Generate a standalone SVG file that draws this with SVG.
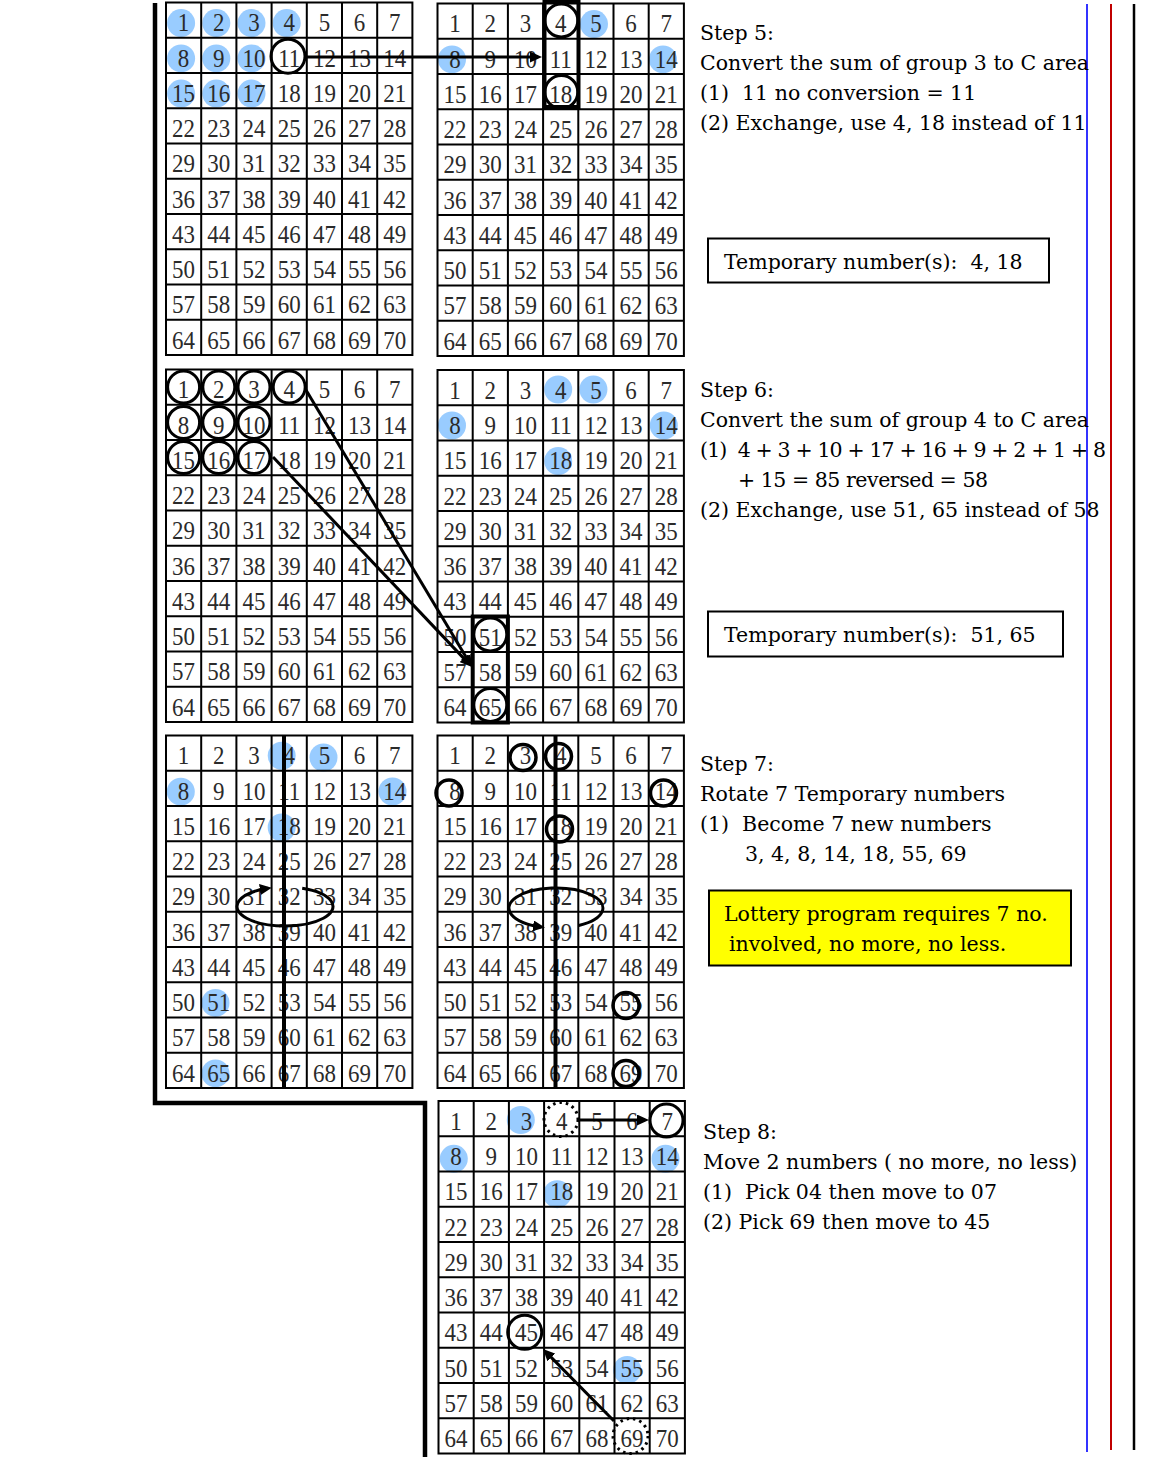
<svg xmlns="http://www.w3.org/2000/svg" width="1156" height="1460" viewBox="0 0 1156 1460">
<style>
.gl{fill:none;stroke:#000;stroke-width:2}
.n{font-family:"Liberation Serif","Times New Roman",serif;font-size:25.5px;fill:#2a2a2a;text-anchor:middle}
.b{fill:#99CCFF}
.c{fill:none;stroke:#000;stroke-width:3}
.c2{fill:none;stroke:#000;stroke-width:3.5}
.d{fill:none;stroke:#000;stroke-width:3;stroke-dasharray:2.5 4}
.rk{fill:none;stroke:#000;stroke-width:4}
.vl{stroke:#000;stroke-width:4}
.ln{fill:none;stroke:#000;stroke-width:3}
.t{font-family:"DejaVu Serif",serif;font-size:20.5px;fill:#000;white-space:pre}
.box{fill:#fff;stroke:#000;stroke-width:2}
</style>
<defs>
<path id="gl" class="gl" d="M0,0H246.4V352.5H0Z M35.2,0V352.5 M70.4,0V352.5 M105.6,0V352.5 M140.8,0V352.5 M176,0V352.5 M211.2,0V352.5 M0,35.25H246.4 M0,70.5H246.4 M0,105.75H246.4 M0,141H246.4 M0,176.25H246.4 M0,211.5H246.4 M0,246.75H246.4 M0,282H246.4 M0,317.25H246.4"/>
<marker id="ah" viewBox="0 0 12 11" markerWidth="12" markerHeight="11" refX="8" refY="5.5" markerUnits="userSpaceOnUse" orient="auto"><path d="M0,0L12,5.5L0,11Z" fill="#000"/></marker>
</defs>
<rect width="1156" height="1460" fill="#fff"/>

<g id="frame">
<path d="M155,3V1103H425V1457" fill="none" stroke="#000" stroke-width="4.5"/>
<line x1="1087" y1="4" x2="1087" y2="1452" stroke="#3333FF" stroke-width="2"/>
<line x1="1111" y1="4" x2="1111" y2="1450" stroke="#C00000" stroke-width="2"/>
<line x1="1134" y1="4" x2="1134" y2="1450" stroke="#000" stroke-width="2.5"/>
</g>

<g id="step5-grid-left" transform="translate(166,2.5)">
<circle class="b" cx="15.1" cy="20.6" r="14"/><circle class="b" cx="50.3" cy="20.6" r="14"/><circle class="b" cx="85.5" cy="20.6" r="14"/><circle class="b" cx="120.7" cy="20.6" r="14"/>
<circle class="b" cx="15.1" cy="55.9" r="14"/><circle class="b" cx="50.3" cy="55.9" r="14"/><circle class="b" cx="85.5" cy="55.9" r="14"/>
<circle class="b" cx="15.1" cy="91.1" r="14"/><circle class="b" cx="50.3" cy="91.1" r="14"/><circle class="b" cx="85.5" cy="91.1" r="14"/>
<use href="#gl"/>
<g class="n" transform="scale(0.9 1)">
<text y="29"><tspan x="19.56">1</tspan><tspan x="58.67">2</tspan><tspan x="97.78">3</tspan><tspan x="136.89">4</tspan><tspan x="176">5</tspan><tspan x="215.11">6</tspan><tspan x="254.22">7</tspan></text>
<text y="64.25"><tspan x="19.56">8</tspan><tspan x="58.67">9</tspan><tspan x="97.78">10</tspan><tspan x="136.89">11</tspan><tspan x="176">12</tspan><tspan x="215.11">13</tspan><tspan x="254.22">14</tspan></text>
<text y="99.5"><tspan x="19.56">15</tspan><tspan x="58.67">16</tspan><tspan x="97.78">17</tspan><tspan x="136.89">18</tspan><tspan x="176">19</tspan><tspan x="215.11">20</tspan><tspan x="254.22">21</tspan></text>
<text y="134.75"><tspan x="19.56">22</tspan><tspan x="58.67">23</tspan><tspan x="97.78">24</tspan><tspan x="136.89">25</tspan><tspan x="176">26</tspan><tspan x="215.11">27</tspan><tspan x="254.22">28</tspan></text>
<text y="170"><tspan x="19.56">29</tspan><tspan x="58.67">30</tspan><tspan x="97.78">31</tspan><tspan x="136.89">32</tspan><tspan x="176">33</tspan><tspan x="215.11">34</tspan><tspan x="254.22">35</tspan></text>
<text y="205.25"><tspan x="19.56">36</tspan><tspan x="58.67">37</tspan><tspan x="97.78">38</tspan><tspan x="136.89">39</tspan><tspan x="176">40</tspan><tspan x="215.11">41</tspan><tspan x="254.22">42</tspan></text>
<text y="240.5"><tspan x="19.56">43</tspan><tspan x="58.67">44</tspan><tspan x="97.78">45</tspan><tspan x="136.89">46</tspan><tspan x="176">47</tspan><tspan x="215.11">48</tspan><tspan x="254.22">49</tspan></text>
<text y="275.75"><tspan x="19.56">50</tspan><tspan x="58.67">51</tspan><tspan x="97.78">52</tspan><tspan x="136.89">53</tspan><tspan x="176">54</tspan><tspan x="215.11">55</tspan><tspan x="254.22">56</tspan></text>
<text y="311"><tspan x="19.56">57</tspan><tspan x="58.67">58</tspan><tspan x="97.78">59</tspan><tspan x="136.89">60</tspan><tspan x="176">61</tspan><tspan x="215.11">62</tspan><tspan x="254.22">63</tspan></text>
<text y="346.25"><tspan x="19.56">64</tspan><tspan x="58.67">65</tspan><tspan x="97.78">66</tspan><tspan x="136.89">67</tspan><tspan x="176">68</tspan><tspan x="215.11">69</tspan><tspan x="254.22">70</tspan></text>
</g>
<circle class="c" cx="122" cy="53.7" r="17"/>
</g>

<g id="step5-grid-right" transform="translate(437.5,3.5)">
<circle class="b" cx="156.5" cy="20.6" r="14"/><circle class="b" cx="14.5" cy="55.9" r="14"/><circle class="b" cx="225.5" cy="55.9" r="14"/>
<use href="#gl"/>
<g class="n" transform="scale(0.9 1)">
<text y="29"><tspan x="19.56">1</tspan><tspan x="58.67">2</tspan><tspan x="97.78">3</tspan><tspan x="136.89">4</tspan><tspan x="176">5</tspan><tspan x="215.11">6</tspan><tspan x="254.22">7</tspan></text>
<text y="64.25"><tspan x="19.56">8</tspan><tspan x="58.67">9</tspan><tspan x="97.78">10</tspan><tspan x="136.89">11</tspan><tspan x="176">12</tspan><tspan x="215.11">13</tspan><tspan x="254.22">14</tspan></text>
<text y="99.5"><tspan x="19.56">15</tspan><tspan x="58.67">16</tspan><tspan x="97.78">17</tspan><tspan x="136.89">18</tspan><tspan x="176">19</tspan><tspan x="215.11">20</tspan><tspan x="254.22">21</tspan></text>
<text y="134.75"><tspan x="19.56">22</tspan><tspan x="58.67">23</tspan><tspan x="97.78">24</tspan><tspan x="136.89">25</tspan><tspan x="176">26</tspan><tspan x="215.11">27</tspan><tspan x="254.22">28</tspan></text>
<text y="170"><tspan x="19.56">29</tspan><tspan x="58.67">30</tspan><tspan x="97.78">31</tspan><tspan x="136.89">32</tspan><tspan x="176">33</tspan><tspan x="215.11">34</tspan><tspan x="254.22">35</tspan></text>
<text y="205.25"><tspan x="19.56">36</tspan><tspan x="58.67">37</tspan><tspan x="97.78">38</tspan><tspan x="136.89">39</tspan><tspan x="176">40</tspan><tspan x="215.11">41</tspan><tspan x="254.22">42</tspan></text>
<text y="240.5"><tspan x="19.56">43</tspan><tspan x="58.67">44</tspan><tspan x="97.78">45</tspan><tspan x="136.89">46</tspan><tspan x="176">47</tspan><tspan x="215.11">48</tspan><tspan x="254.22">49</tspan></text>
<text y="275.75"><tspan x="19.56">50</tspan><tspan x="58.67">51</tspan><tspan x="97.78">52</tspan><tspan x="136.89">53</tspan><tspan x="176">54</tspan><tspan x="215.11">55</tspan><tspan x="254.22">56</tspan></text>
<text y="311"><tspan x="19.56">57</tspan><tspan x="58.67">58</tspan><tspan x="97.78">59</tspan><tspan x="136.89">60</tspan><tspan x="176">61</tspan><tspan x="215.11">62</tspan><tspan x="254.22">63</tspan></text>
<text y="346.25"><tspan x="19.56">64</tspan><tspan x="58.67">65</tspan><tspan x="97.78">66</tspan><tspan x="136.89">67</tspan><tspan x="176">68</tspan><tspan x="215.11">69</tspan><tspan x="254.22">70</tspan></text>
</g>
<rect class="rk" x="107" y="-1.5" width="34" height="105"/>
<circle class="c" cx="123.8" cy="17" r="16.5"/><circle class="c" cx="123.8" cy="88.5" r="16.5"/>
</g>

<g id="step6-grid-left" transform="translate(166,369.5)">
<use href="#gl"/>
<g class="n" transform="scale(0.9 1)">
<text y="29"><tspan x="19.56">1</tspan><tspan x="58.67">2</tspan><tspan x="97.78">3</tspan><tspan x="136.89">4</tspan><tspan x="176">5</tspan><tspan x="215.11">6</tspan><tspan x="254.22">7</tspan></text>
<text y="64.25"><tspan x="19.56">8</tspan><tspan x="58.67">9</tspan><tspan x="97.78">10</tspan><tspan x="136.89">11</tspan><tspan x="176">12</tspan><tspan x="215.11">13</tspan><tspan x="254.22">14</tspan></text>
<text y="99.5"><tspan x="19.56">15</tspan><tspan x="58.67">16</tspan><tspan x="97.78">17</tspan><tspan x="136.89">18</tspan><tspan x="176">19</tspan><tspan x="215.11">20</tspan><tspan x="254.22">21</tspan></text>
<text y="134.75"><tspan x="19.56">22</tspan><tspan x="58.67">23</tspan><tspan x="97.78">24</tspan><tspan x="136.89">25</tspan><tspan x="176">26</tspan><tspan x="215.11">27</tspan><tspan x="254.22">28</tspan></text>
<text y="170"><tspan x="19.56">29</tspan><tspan x="58.67">30</tspan><tspan x="97.78">31</tspan><tspan x="136.89">32</tspan><tspan x="176">33</tspan><tspan x="215.11">34</tspan><tspan x="254.22">35</tspan></text>
<text y="205.25"><tspan x="19.56">36</tspan><tspan x="58.67">37</tspan><tspan x="97.78">38</tspan><tspan x="136.89">39</tspan><tspan x="176">40</tspan><tspan x="215.11">41</tspan><tspan x="254.22">42</tspan></text>
<text y="240.5"><tspan x="19.56">43</tspan><tspan x="58.67">44</tspan><tspan x="97.78">45</tspan><tspan x="136.89">46</tspan><tspan x="176">47</tspan><tspan x="215.11">48</tspan><tspan x="254.22">49</tspan></text>
<text y="275.75"><tspan x="19.56">50</tspan><tspan x="58.67">51</tspan><tspan x="97.78">52</tspan><tspan x="136.89">53</tspan><tspan x="176">54</tspan><tspan x="215.11">55</tspan><tspan x="254.22">56</tspan></text>
<text y="311"><tspan x="19.56">57</tspan><tspan x="58.67">58</tspan><tspan x="97.78">59</tspan><tspan x="136.89">60</tspan><tspan x="176">61</tspan><tspan x="215.11">62</tspan><tspan x="254.22">63</tspan></text>
<text y="346.25"><tspan x="19.56">64</tspan><tspan x="58.67">65</tspan><tspan x="97.78">66</tspan><tspan x="136.89">67</tspan><tspan x="176">68</tspan><tspan x="215.11">69</tspan><tspan x="254.22">70</tspan></text>
</g>
<circle class="c" cx="17.6" cy="17.6" r="16"/><circle class="c" cx="52.8" cy="17.6" r="16"/><circle class="c" cx="88" cy="17.6" r="16"/><circle class="c" cx="123.2" cy="17.6" r="16"/>
<circle class="c" cx="17.6" cy="52.9" r="16"/><circle class="c" cx="52.8" cy="52.9" r="16"/><circle class="c" cx="88" cy="52.9" r="16"/>
<circle class="c" cx="17.6" cy="88.1" r="16"/><circle class="c" cx="52.8" cy="88.1" r="16"/><circle class="c" cx="88" cy="88.1" r="16"/>
</g>

<g id="step6-grid-right" transform="translate(437.5,370)">
<circle class="b" cx="120.7" cy="19.5" r="14"/><circle class="b" cx="155.9" cy="19.5" r="14"/><circle class="b" cx="14.5" cy="55.5" r="14"/><circle class="b" cx="226.3" cy="55.5" r="14"/><circle class="b" cx="120.7" cy="91.1" r="14"/>
<use href="#gl"/>
<g class="n" transform="scale(0.9 1)">
<text y="29"><tspan x="19.56">1</tspan><tspan x="58.67">2</tspan><tspan x="97.78">3</tspan><tspan x="136.89">4</tspan><tspan x="176">5</tspan><tspan x="215.11">6</tspan><tspan x="254.22">7</tspan></text>
<text y="64.25"><tspan x="19.56">8</tspan><tspan x="58.67">9</tspan><tspan x="97.78">10</tspan><tspan x="136.89">11</tspan><tspan x="176">12</tspan><tspan x="215.11">13</tspan><tspan x="254.22">14</tspan></text>
<text y="99.5"><tspan x="19.56">15</tspan><tspan x="58.67">16</tspan><tspan x="97.78">17</tspan><tspan x="136.89">18</tspan><tspan x="176">19</tspan><tspan x="215.11">20</tspan><tspan x="254.22">21</tspan></text>
<text y="134.75"><tspan x="19.56">22</tspan><tspan x="58.67">23</tspan><tspan x="97.78">24</tspan><tspan x="136.89">25</tspan><tspan x="176">26</tspan><tspan x="215.11">27</tspan><tspan x="254.22">28</tspan></text>
<text y="170"><tspan x="19.56">29</tspan><tspan x="58.67">30</tspan><tspan x="97.78">31</tspan><tspan x="136.89">32</tspan><tspan x="176">33</tspan><tspan x="215.11">34</tspan><tspan x="254.22">35</tspan></text>
<text y="205.25"><tspan x="19.56">36</tspan><tspan x="58.67">37</tspan><tspan x="97.78">38</tspan><tspan x="136.89">39</tspan><tspan x="176">40</tspan><tspan x="215.11">41</tspan><tspan x="254.22">42</tspan></text>
<text y="240.5"><tspan x="19.56">43</tspan><tspan x="58.67">44</tspan><tspan x="97.78">45</tspan><tspan x="136.89">46</tspan><tspan x="176">47</tspan><tspan x="215.11">48</tspan><tspan x="254.22">49</tspan></text>
<text y="275.75"><tspan x="19.56">50</tspan><tspan x="58.67">51</tspan><tspan x="97.78">52</tspan><tspan x="136.89">53</tspan><tspan x="176">54</tspan><tspan x="215.11">55</tspan><tspan x="254.22">56</tspan></text>
<text y="311"><tspan x="19.56">57</tspan><tspan x="58.67">58</tspan><tspan x="97.78">59</tspan><tspan x="136.89">60</tspan><tspan x="176">61</tspan><tspan x="215.11">62</tspan><tspan x="254.22">63</tspan></text>
<text y="346.25"><tspan x="19.56">64</tspan><tspan x="58.67">65</tspan><tspan x="97.78">66</tspan><tspan x="136.89">67</tspan><tspan x="176">68</tspan><tspan x="215.11">69</tspan><tspan x="254.22">70</tspan></text>
</g>
<rect class="rk" x="35.2" y="246.5" width="35.2" height="106"/>
<circle class="c" cx="52.8" cy="264.4" r="16.5"/><circle class="c" cx="52.8" cy="334.9" r="16.5"/>
</g>

<g id="step7-grid-left" transform="translate(166,735.5)">
<circle class="b" cx="115.7" cy="20.3" r="14"/><circle class="b" cx="157.5" cy="22" r="14"/><circle class="b" cx="14.8" cy="56.2" r="14"/><circle class="b" cx="226.5" cy="56" r="14"/><circle class="b" cx="115.7" cy="92" r="14"/><circle class="b" cx="49.5" cy="267.4" r="14"/><circle class="b" cx="49.5" cy="337.9" r="14"/>
<use href="#gl"/>
<g class="n" transform="scale(0.9 1)">
<text y="29"><tspan x="19.56">1</tspan><tspan x="58.67">2</tspan><tspan x="97.78">3</tspan><tspan x="136.89">4</tspan><tspan x="176">5</tspan><tspan x="215.11">6</tspan><tspan x="254.22">7</tspan></text>
<text y="64.25"><tspan x="19.56">8</tspan><tspan x="58.67">9</tspan><tspan x="97.78">10</tspan><tspan x="136.89">11</tspan><tspan x="176">12</tspan><tspan x="215.11">13</tspan><tspan x="254.22">14</tspan></text>
<text y="99.5"><tspan x="19.56">15</tspan><tspan x="58.67">16</tspan><tspan x="97.78">17</tspan><tspan x="136.89">18</tspan><tspan x="176">19</tspan><tspan x="215.11">20</tspan><tspan x="254.22">21</tspan></text>
<text y="134.75"><tspan x="19.56">22</tspan><tspan x="58.67">23</tspan><tspan x="97.78">24</tspan><tspan x="136.89">25</tspan><tspan x="176">26</tspan><tspan x="215.11">27</tspan><tspan x="254.22">28</tspan></text>
<text y="170"><tspan x="19.56">29</tspan><tspan x="58.67">30</tspan><tspan x="97.78">31</tspan><tspan x="136.89">32</tspan><tspan x="176">33</tspan><tspan x="215.11">34</tspan><tspan x="254.22">35</tspan></text>
<text y="205.25"><tspan x="19.56">36</tspan><tspan x="58.67">37</tspan><tspan x="97.78">38</tspan><tspan x="136.89">39</tspan><tspan x="176">40</tspan><tspan x="215.11">41</tspan><tspan x="254.22">42</tspan></text>
<text y="240.5"><tspan x="19.56">43</tspan><tspan x="58.67">44</tspan><tspan x="97.78">45</tspan><tspan x="136.89">46</tspan><tspan x="176">47</tspan><tspan x="215.11">48</tspan><tspan x="254.22">49</tspan></text>
<text y="275.75"><tspan x="19.56">50</tspan><tspan x="58.67">51</tspan><tspan x="97.78">52</tspan><tspan x="136.89">53</tspan><tspan x="176">54</tspan><tspan x="215.11">55</tspan><tspan x="254.22">56</tspan></text>
<text y="311"><tspan x="19.56">57</tspan><tspan x="58.67">58</tspan><tspan x="97.78">59</tspan><tspan x="136.89">60</tspan><tspan x="176">61</tspan><tspan x="215.11">62</tspan><tspan x="254.22">63</tspan></text>
<text y="346.25"><tspan x="19.56">64</tspan><tspan x="58.67">65</tspan><tspan x="97.78">66</tspan><tspan x="136.89">67</tspan><tspan x="176">68</tspan><tspan x="215.11">69</tspan><tspan x="254.22">70</tspan></text>
</g>
<line class="vl" x1="118" y1="0" x2="118" y2="353"/>
</g>

<g id="step7-grid-right" transform="translate(437.5,735.5)">
<use href="#gl"/>
<g class="n" transform="scale(0.9 1)">
<text y="29"><tspan x="19.56">1</tspan><tspan x="58.67">2</tspan><tspan x="97.78">3</tspan><tspan x="136.89">4</tspan><tspan x="176">5</tspan><tspan x="215.11">6</tspan><tspan x="254.22">7</tspan></text>
<text y="64.25"><tspan x="19.56">8</tspan><tspan x="58.67">9</tspan><tspan x="97.78">10</tspan><tspan x="136.89">11</tspan><tspan x="176">12</tspan><tspan x="215.11">13</tspan><tspan x="254.22">14</tspan></text>
<text y="99.5"><tspan x="19.56">15</tspan><tspan x="58.67">16</tspan><tspan x="97.78">17</tspan><tspan x="136.89">18</tspan><tspan x="176">19</tspan><tspan x="215.11">20</tspan><tspan x="254.22">21</tspan></text>
<text y="134.75"><tspan x="19.56">22</tspan><tspan x="58.67">23</tspan><tspan x="97.78">24</tspan><tspan x="136.89">25</tspan><tspan x="176">26</tspan><tspan x="215.11">27</tspan><tspan x="254.22">28</tspan></text>
<text y="170"><tspan x="19.56">29</tspan><tspan x="58.67">30</tspan><tspan x="97.78">31</tspan><tspan x="136.89">32</tspan><tspan x="176">33</tspan><tspan x="215.11">34</tspan><tspan x="254.22">35</tspan></text>
<text y="205.25"><tspan x="19.56">36</tspan><tspan x="58.67">37</tspan><tspan x="97.78">38</tspan><tspan x="136.89">39</tspan><tspan x="176">40</tspan><tspan x="215.11">41</tspan><tspan x="254.22">42</tspan></text>
<text y="240.5"><tspan x="19.56">43</tspan><tspan x="58.67">44</tspan><tspan x="97.78">45</tspan><tspan x="136.89">46</tspan><tspan x="176">47</tspan><tspan x="215.11">48</tspan><tspan x="254.22">49</tspan></text>
<text y="275.75"><tspan x="19.56">50</tspan><tspan x="58.67">51</tspan><tspan x="97.78">52</tspan><tspan x="136.89">53</tspan><tspan x="176">54</tspan><tspan x="215.11">55</tspan><tspan x="254.22">56</tspan></text>
<text y="311"><tspan x="19.56">57</tspan><tspan x="58.67">58</tspan><tspan x="97.78">59</tspan><tspan x="136.89">60</tspan><tspan x="176">61</tspan><tspan x="215.11">62</tspan><tspan x="254.22">63</tspan></text>
<text y="346.25"><tspan x="19.56">64</tspan><tspan x="58.67">65</tspan><tspan x="97.78">66</tspan><tspan x="136.89">67</tspan><tspan x="176">68</tspan><tspan x="215.11">69</tspan><tspan x="254.22">70</tspan></text>
</g>
<line class="vl" x1="118" y1="0" x2="118" y2="353"/>
<circle class="c2" cx="85.5" cy="22" r="13"/><circle class="c2" cx="121" cy="21" r="13"/><circle class="c2" cx="11.5" cy="57.5" r="13"/><circle class="c2" cx="226" cy="57.5" r="13"/><circle class="c2" cx="122" cy="93.5" r="13"/><circle class="c2" cx="188.5" cy="270" r="13"/><circle class="c2" cx="188.5" cy="338" r="13"/>
</g>

<g id="step8-grid" transform="translate(438.5,1101)">
<circle class="b" cx="82.3" cy="19" r="14"/><circle class="b" cx="15.3" cy="57.8" r="14"/><circle class="b" cx="227" cy="57.8" r="14"/><circle class="b" cx="118.7" cy="93.2" r="14"/><circle class="b" cx="188.7" cy="269" r="14"/>
<use href="#gl"/>
<g class="n" transform="scale(0.9 1)">
<text y="29"><tspan x="19.56">1</tspan><tspan x="58.67">2</tspan><tspan x="97.78">3</tspan><tspan x="136.89">4</tspan><tspan x="176">5</tspan><tspan x="215.11">6</tspan><tspan x="254.22">7</tspan></text>
<text y="64.25"><tspan x="19.56">8</tspan><tspan x="58.67">9</tspan><tspan x="97.78">10</tspan><tspan x="136.89">11</tspan><tspan x="176">12</tspan><tspan x="215.11">13</tspan><tspan x="254.22">14</tspan></text>
<text y="99.5"><tspan x="19.56">15</tspan><tspan x="58.67">16</tspan><tspan x="97.78">17</tspan><tspan x="136.89">18</tspan><tspan x="176">19</tspan><tspan x="215.11">20</tspan><tspan x="254.22">21</tspan></text>
<text y="134.75"><tspan x="19.56">22</tspan><tspan x="58.67">23</tspan><tspan x="97.78">24</tspan><tspan x="136.89">25</tspan><tspan x="176">26</tspan><tspan x="215.11">27</tspan><tspan x="254.22">28</tspan></text>
<text y="170"><tspan x="19.56">29</tspan><tspan x="58.67">30</tspan><tspan x="97.78">31</tspan><tspan x="136.89">32</tspan><tspan x="176">33</tspan><tspan x="215.11">34</tspan><tspan x="254.22">35</tspan></text>
<text y="205.25"><tspan x="19.56">36</tspan><tspan x="58.67">37</tspan><tspan x="97.78">38</tspan><tspan x="136.89">39</tspan><tspan x="176">40</tspan><tspan x="215.11">41</tspan><tspan x="254.22">42</tspan></text>
<text y="240.5"><tspan x="19.56">43</tspan><tspan x="58.67">44</tspan><tspan x="97.78">45</tspan><tspan x="136.89">46</tspan><tspan x="176">47</tspan><tspan x="215.11">48</tspan><tspan x="254.22">49</tspan></text>
<text y="275.75"><tspan x="19.56">50</tspan><tspan x="58.67">51</tspan><tspan x="97.78">52</tspan><tspan x="136.89">53</tspan><tspan x="176">54</tspan><tspan x="215.11">55</tspan><tspan x="254.22">56</tspan></text>
<text y="311"><tspan x="19.56">57</tspan><tspan x="58.67">58</tspan><tspan x="97.78">59</tspan><tspan x="136.89">60</tspan><tspan x="176">61</tspan><tspan x="215.11">62</tspan><tspan x="254.22">63</tspan></text>
<text y="346.25"><tspan x="19.56">64</tspan><tspan x="58.67">65</tspan><tspan x="97.78">66</tspan><tspan x="136.89">67</tspan><tspan x="176">68</tspan><tspan x="215.11">69</tspan><tspan x="254.22">70</tspan></text>
</g>
<circle class="d" cx="122.5" cy="18.5" r="17"/>
<circle class="c" cx="228" cy="19.5" r="16.5"/>
<circle class="c" cx="86.2" cy="231.3" r="17"/>
<circle class="d" cx="192" cy="335" r="17.5"/>
</g>

<g id="connectors">
<line class="ln" x1="306.5" y1="57" x2="538" y2="57" marker-end="url(#ah)"/>
<line class="ln" x1="306" y1="390" x2="469.9" y2="663.6" marker-end="url(#ah)"/>
<line class="ln" x1="273" y1="457" x2="469.25" y2="664.1" marker-end="url(#ah)"/>
<path class="ln" d="M302.2,888.3 A48,19.5 0 1 1 267.8,888.3" marker-end="url(#ah)"/>
<path class="ln" d="M578.8,925.5 A47,20 0 1 0 541,927" marker-end="url(#ah)"/>
<line class="ln" x1="578.5" y1="1120" x2="645" y2="1120" marker-end="url(#ah)"/>
<line class="ln" x1="614" y1="1421" x2="545.8" y2="1351.85" marker-end="url(#ah)"/>
</g>

<g id="step5-text">
<text class="t" x="700" y="40">Step 5:</text>
<text class="t" x="700" y="70">Convert the sum of group 3 to C area</text>
<text class="t" x="700" y="100">(1)  11 no conversion = 11</text>
<text class="t" x="700" y="130">(2) Exchange, use 4, 18 instead of 11</text>
</g>
<g id="step5-temp">
<rect class="box" x="708" y="238.5" width="341" height="44"/>
<text class="t" x="724" y="269">Temporary number(s):  4, 18</text>
</g>

<g id="step6-text">
<text class="t" x="700" y="397">Step 6:</text>
<text class="t" x="700" y="427">Convert the sum of group 4 to C area</text>
<text class="t" x="700" y="457" textLength="406" lengthAdjust="spacing">(1)  4 + 3 + 10 + 17 + 16 + 9 + 2 + 1 + 8</text>
<text class="t" x="738" y="487" textLength="250" lengthAdjust="spacing">+ 15 = 85 reversed = 58</text>
<text class="t" x="700" y="517">(2) Exchange, use 51, 65 instead of 58</text>
</g>
<g id="step6-temp">
<rect class="box" x="708" y="611.5" width="355" height="45"/>
<text class="t" x="724" y="642">Temporary number(s):  51, 65</text>
</g>

<g id="step7-text">
<text class="t" x="700" y="771">Step 7:</text>
<text class="t" x="700" y="801">Rotate 7 Temporary numbers</text>
<text class="t" x="700" y="831">(1)  Become 7 new numbers</text>
<text class="t" x="745" y="861">3, 4, 8, 14, 18, 55, 69</text>
</g>
<g id="step7-note">
<rect x="709" y="890.5" width="362" height="75" fill="#FFFF00" stroke="#000" stroke-width="2"/>
<text class="t" x="724" y="921">Lottery program requires 7 no.</text>
<text class="t" x="729" y="951">involved, no more, no less.</text>
</g>

<g id="step8-text">
<text class="t" x="703" y="1139">Step 8:</text>
<text class="t" x="703" y="1169">Move 2 numbers ( no more, no less)</text>
<text class="t" x="703" y="1199">(1)  Pick 04 then move to 07</text>
<text class="t" x="703" y="1229">(2) Pick 69 then move to 45</text>
</g>
</svg>
